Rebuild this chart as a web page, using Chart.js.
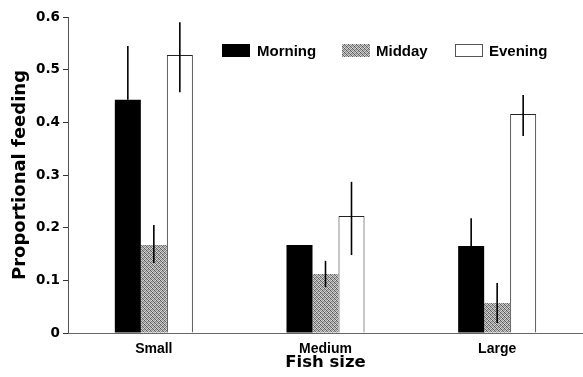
<!DOCTYPE html>
<html>
<head>
<meta charset="utf-8">
<script src="https://cdn.jsdelivr.net/npm/chart.js@4/dist/chart.umd.min.js"></script>
<style>
  html, body { margin: 0; padding: 0; background: #fff; }
  #wrap { width: 583px; height: 377px; position: relative; }
</style>
</head>
<body>
<div id="wrap"><canvas id="c"></canvas></div>
<script>
// ---- data ----
const categories = ['Small', 'Medium', 'Large'];
const seriesNames = ['Morning', 'Midday', 'Evening'];
const morning = [0.443, 0.167, 0.165];
const midday  = [0.167, 0.112, 0.057];
const evening = [0.528, 0.222, 0.416];
// error bar ends [low, high]; null = no bar visible
const morningErr = [[0.443, 0.545], null, [0.165, 0.218]];
const middayErr  = [[0.133, 0.205], [0.087, 0.137], [0.019, 0.095]];
const eveningErr = [[0.457, 0.590], [0.148, 0.287], [0.374, 0.452]];
const yTicks = [0, 0.1, 0.2, 0.3, 0.4, 0.5, 0.6];
const xTitle = 'Fish size';
const yTitle = 'Proportional feeding';

// stipple pattern for Midday
function makePattern() {
  const pc = document.createElement('canvas');
  pc.width = 4; pc.height = 4;
  const p = pc.getContext('2d');
  const shades = [
    ['#5a5a5a', '#c8c8c8', '#9a9a9a', '#d8d8d8'],
    ['#b0b0b0', '#6a6a6a', '#d0d0d0', '#808080'],
    ['#909090', '#d4d4d4', '#585858', '#c0c0c0'],
    ['#d8d8d8', '#888888', '#b8b8b8', '#686868']
  ];
  for (let y = 0; y < 4; y++) for (let x = 0; x < 4; x++) {
    p.fillStyle = shades[y][x]; p.fillRect(x, y, 1, 1);
  }
  return p.createPattern(pc, 'repeat');
}
const middayFill = makePattern();

const errSets = [morningErr, middayErr, eveningErr];

const errorBarPlugin = {
  id: 'errorBars',
  afterDatasetsDraw(chart) {
    const ctx = chart.ctx;
    const y = chart.scales.y;
    ctx.save();
    ctx.strokeStyle = '#000';
    ctx.lineWidth = 1.6;
    chart.data.datasets.forEach((ds, di) => {
      const meta = chart.getDatasetMeta(di);
      meta.data.forEach((bar, i) => {
        const e = errSets[di][i];
        if (!e) return;
        const x = bar.x;
        ctx.beginPath();
        ctx.moveTo(x, y.getPixelForValue(e[0]));
        ctx.lineTo(x, y.getPixelForValue(e[1]));
        ctx.stroke();
      });
    });
    ctx.restore();
  }
};

const legendPlugin = {
  id: 'inLegend',
  afterDraw(chart) {
    const ctx = chart.ctx;
    const boxX = [222, 342, 455];
    const textX = [257, 376, 489];
    const top = 44, bw = 28, bh = 13;
    ctx.save();
    ctx.font = 'bold 15px "Liberation Sans", Arial, sans-serif';
    ctx.textBaseline = 'middle';
    ctx.fillStyle = '#000';
    chart.data.datasets.forEach((ds, i) => {
      ctx.fillStyle = ds.backgroundColor;
      ctx.fillRect(boxX[i], top, bw, bh);
      if (ds.borderWidth) {
        ctx.strokeStyle = '#555';
        ctx.lineWidth = 1;
        ctx.strokeRect(boxX[i] + 0.5, top + 0.5, bw - 1, bh - 1);
      }
      ctx.fillStyle = '#000';
      ctx.fillText(ds.label, textX[i], top + bh / 2 + 1.5);
    });
    ctx.restore();
  }
};

new Chart(document.getElementById('c'), {
  type: 'bar',
  data: {
    labels: categories,
    datasets: [
      { label: seriesNames[0], data: morning, backgroundColor: '#000', borderWidth: 0 },
      { label: seriesNames[1], data: midday, backgroundColor: middayFill, borderWidth: 0 },
      { label: seriesNames[2], data: evening, backgroundColor: '#fff', borderColor: '#222', borderWidth: 1 }
    ]
  },
  options: {
    responsive: true,
    maintainAspectRatio: false,
    animation: false,
    layout: { padding: { top: 17, right: 0, left: 0, bottom: 0 } },
    datasets: { bar: { barPercentage: 1, categoryPercentage: 0.4544 } },
    plugins: { legend: { display: false }, tooltip: { enabled: false } },
    scales: {
      x: {
        grid: { display: false, drawTicks: false },
        border: { display: true, color: '#666', width: 1 },
        ticks: {
          color: '#000', padding: 8,
          font: { family: '"Liberation Sans", Arial, sans-serif', size: 14, weight: 'bold' }
        },
        title: {
          display: true, text: xTitle, color: '#000',
          font: { family: '"DejaVu Sans", sans-serif', size: 16.5, weight: 'bold' },
          padding: { top: 0, bottom: 4 }
        },
        afterFit(scale) { scale.height = 44; }
      },
      y: {
        min: 0, max: 0.6,
        grid: { display: true, drawOnChartArea: false, drawTicks: true, tickLength: 5, color: '#333' },
        border: { display: true, color: '#555', width: 1 },
        afterBuildTicks(scale) { scale.ticks = yTicks.map(v => ({ value: v })); },
        ticks: {
          color: '#000', padding: 3,
          font: { family: '"DejaVu Sans", sans-serif', size: 13.5, weight: 'bold' },
          callback: v => (v === 0 ? '0' : v.toFixed(1))
        },
        title: {
          display: true, text: yTitle, color: '#000',
          font: { family: '"DejaVu Sans", sans-serif', size: 18, weight: 'bold' },
          padding: { top: 10, bottom: 0 }
        },
        afterFit(scale) { scale.width = 68; }
      }
    }
  },
  plugins: [errorBarPlugin, legendPlugin]
});
</script>
</body>
</html>
